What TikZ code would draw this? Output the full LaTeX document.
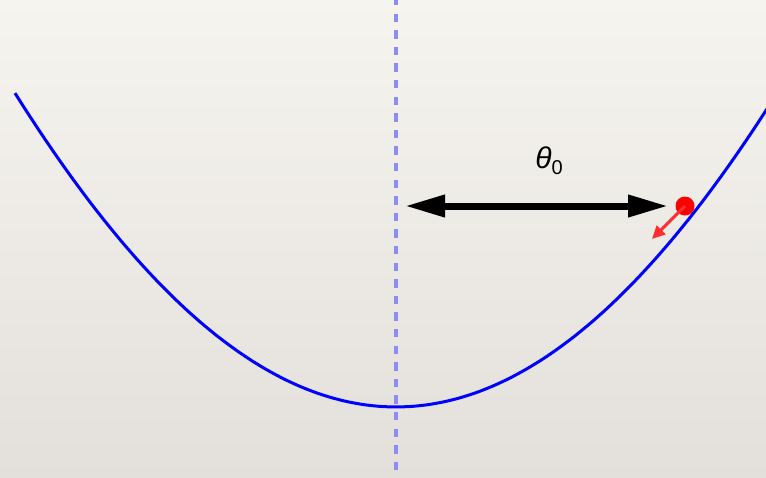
\documentclass[tikz,border=0pt]{standalone}
\usepackage{fontspec}
\setmainfont{Liberation Sans}
\usetikzlibrary{arrows.meta}
\definecolor{paperTop}{RGB}{246,244,239}
\definecolor{paperBot}{RGB}{227,224,219}
\definecolor{axisBlue}{RGB}{140,140,245}
\definecolor{kickRed}{RGB}{255,45,45}

\begin{document}
\begin{tikzpicture}[x=1pt,y=-1pt]
\useasboundingbox (0,0) rectangle (766,477);
\shade[top color=paperTop,bottom color=paperBot] (0,0) rectangle (766,477);
% vertical axis
\coordinate (top) at (396,0);
\coordinate (bot) at (396,477);
\draw[axisBlue,line width=4.3pt,dash pattern=on 8.3pt off 8.3pt,dash phase=3pt] (top) -- (bot);
% potential curve
\draw[blue,line width=3pt] plot[domain=-3.81:3.75,samples=120,smooth] ({396+100*\x},{407-1610*(1-cos(deg(\x/6)))});
% amplitude
\coordinate (a0) at (405,206);
\coordinate (a1) at (668,206);
\draw[{Triangle[length=40pt,width=21pt]}-{Triangle[length=40pt,width=21pt]},line width=7pt] (a0) -- (a1);
\node (theta) at (549,161) {\fontsize{30}{30}\selectfont\itshape θ\raisebox{-6pt}{\fontsize{20}{20}\selectfont\upshape 0}};
% ball
\node[circle,fill=red,minimum size=19pt,inner sep=0pt] (ball) at (685,206) {};
\coordinate (kick) at (652,239);
\draw[-{Triangle[length=13pt,width=12pt]},kickRed,line width=3pt] (ball.center) -- (kick);
\end{tikzpicture}
\end{document}
